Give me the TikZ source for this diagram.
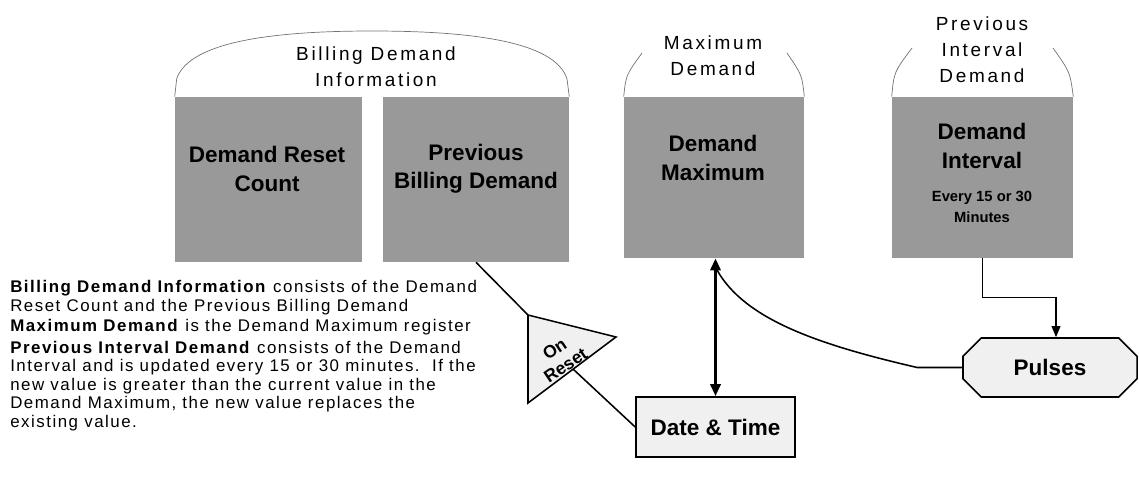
\documentclass[tikz,border=0pt]{standalone}
\usepackage{fontspec}
\setmainfont{Liberation Sans}
\newfontfamily\spacedfont[LetterSpace=14]{Liberation Sans}
\newfontfamily\parafont[LetterSpace=9]{Liberation Sans}
\usetikzlibrary{arrows.meta,shapes.misc}

\begin{document}
\begin{tikzpicture}[x=0.025cm,y=-0.025cm,
    register/.style={draw=none,fill=black!40,inner sep=0pt},
    dome/.style={draw=black!55,line width=0.5pt},
    title/.style={align=center,font=\fontsize{13.5}{18.5}\selectfont\spacedfont},
    reglabel/.style={align=center,font=\fontsize{16}{20}\selectfont\bfseries},
    smalllabel/.style={align=center,font=\fontsize{10.5}{15.5}\selectfont\bfseries},
    dotbox/.style={draw,line width=1.1pt,fill=black!6,inner sep=0pt},
    para/.style={align=left,anchor=base west,inner sep=0pt,font=\fontsize{12}{13.1}\selectfont\parafont},
    link/.style={line width=1.1pt},
    tip/.style={-{Triangle[length=0.28cm,width=0.22cm]}}
  ]
    \useasboundingbox (0,0) rectangle (1139,489);

    % the four registers
    \node[register,minimum width=4.675cm,minimum height=4.125cm] (resetcount) at (268.5,179.5) {};
    \node[register,minimum width=4.65cm,minimum height=4.125cm] (prevbill) at (476,179.5) {};
    \node[register,minimum width=4.5cm,minimum height=4.025cm] (demmax) at (714,177.5) {};
    \node[register,minimum width=4.525cm,minimum height=4.025cm] (interval) at (982.5,177.5) {};

    % domes over the registers
    \draw[dome] (resetcount.north west) -- ++(2,-18) .. controls (190,40) and (280,31) .. (372,31)
        .. controls (465,31) and (555,40) .. (567,79) -- (prevbill.north east);
    \draw[dome] (demmax.north west) .. controls (626,75) .. (642,53);
    \draw[dome] (demmax.north east) .. controls (802,75) .. (787,53);
    \draw[dome] (interval.north west) .. controls (894,72) .. (912,48);
    \draw[dome] (interval.north east) .. controls (1070,72) .. (1053,48);

    \node[title] (billtitle) at (376,67) {Billing Demand\\Information};
    \node[title] (maxtitle) at (713,56) {Maximum\\Demand};
    \node[title] (inttitle) at (982,50) {Previous\\Interval\\Demand};

    \node[reglabel] (resetlabel) at (267,169) {Demand Reset\\Count};
    \node[reglabel] (billlabel) at (476,169) {Previous\\Billing Demand};
    \node[reglabel] (maxlabel) at (713,158) {Demand\\Maximum};
    \node[reglabel] (intlabel) at (982,146) {Demand\\Interval};
    \node[smalllabel] (everylabel) at (982,207) {Every 15 or 30\\Minutes};

    % on reset trigger
    \coordinate (trione) at (528,315);
    \coordinate (tritwo) at (616,337);
    \coordinate (trithree) at (528,403);
    \coordinate (triexit) at (573,369);
    \draw[dotbox] (trione) -- (tritwo) -- (trithree) -- cycle;
    \node[rotate=34,align=center,font=\fontsize{12.5}{14}\selectfont\bfseries] (onreset) at (560,357) {On\\Reset};

    \node[dotbox,minimum width=3.975cm,minimum height=1.5cm,font=\fontsize{16}{20}\selectfont\bfseries] (datetime) at (715.5,427) {Date \& Time};
    \node[dotbox,chamfered rectangle,chamfered rectangle xsep=0.25cm,chamfered rectangle ysep=0.25cm,
        minimum width=4.35cm,minimum height=1.475cm,
        font=\fontsize{16}{20}\selectfont\bfseries] (pulses) at (1050,367.5) {Pulses};

    \draw[link] (prevbill.south) -- (trione);
    \draw[link] (triexit) -- (datetime.west);
    \draw[line width=2.2pt,{Triangle[length=0.3cm,width=0.25cm]}-{Triangle[length=0.3cm,width=0.25cm]}]
        (datetime.north) -- (datetime.north |- demmax.south);
    \coordinate (merge) at (717,270);
    \draw[link] (pulses.west) -- ++(-45,0) .. controls (820,345) and (745,320) .. (merge);
    \draw[link,tip] (interval.south) -- ++(0,39) -| ([xshift=0.15cm]pulses.north);

    % notes (anchored at the baseline of their last line)
    \node[para] (billnote) at (10,311) {\textbf{Billing Demand Information} consists of the Demand\\Reset Count and the Previous Billing Demand};
    \node[para] (maxnote) at (10,331) {\textbf{Maximum Demand} is the Demand Maximum register};
    \node[para] (intnote) at (10,427) {\textbf{Previous Interval Demand} consists of the Demand\\Interval and is updated every 15 or 30 minutes.\ \ If the\\new value is greater than the current value in the\\Demand Maximum, the new value replaces the\\existing value.};
\end{tikzpicture}
\end{document}
